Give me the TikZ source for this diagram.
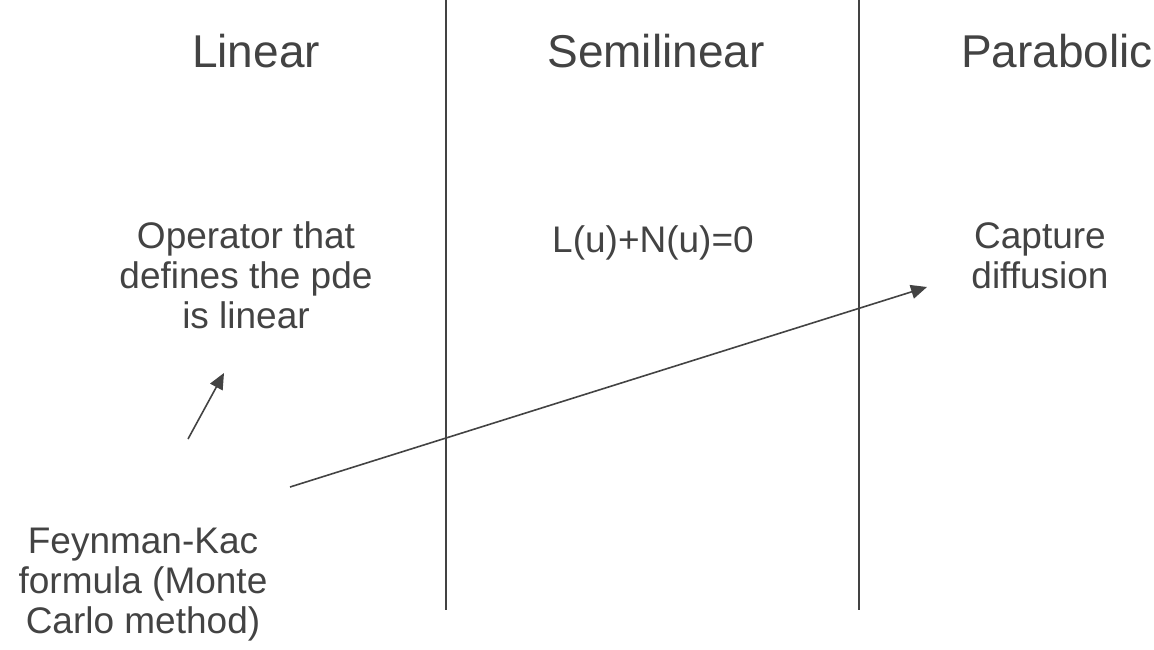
\documentclass[tikz,border=0pt]{standalone}
\usepackage{fontspec}
\setmainfont{Liberation Sans}
\usetikzlibrary{arrows.meta}
\definecolor{slidegray}{RGB}{67,67,67}
\tikzset{
  colhead/.style={font=\fontsize{46}{52}\selectfont,text=slidegray,anchor=base},
  note/.style={font=\fontsize{37}{40}\selectfont,text=slidegray,align=center,anchor=base,inner sep=0pt},
  colsep/.style={line width=1.6pt,slidegray},
  link/.style={line width=1.6pt,slidegray,-{Triangle[length=16pt,width=14pt]}}
}

\begin{document}
\begin{tikzpicture}[x=1pt,y=-1pt]
  \useasboundingbox (0,0) rectangle (1154,650);
  % column separators
  \coordinate (s1top) at (446,0); \coordinate (s1bot) at (446,610);
  \coordinate (s2top) at (859,0); \coordinate (s2bot) at (859,610);
  \draw[colsep] (s1top) -- (s1bot);
  \draw[colsep] (s2top) -- (s2bot);
  % headings
  \node[colhead] (linear) at (256,68) {Linear};
  \node[colhead] (semi) at (656,68) {Semilinear};
  \node[colhead] (parab) at (1057,68) {Parabolic};
  % cell texts (base = last line)
  \node[note] (opdef) at (246,328) {Operator that\\defines the pde\\is linear};
  \node[note] (lnform) at (653,252) {L(u)+N(u)=0};
  \node[note] (diffu) at (1040,288) {Capture\\diffusion};
  \node[note] (fk) at (143,633) {Feynman-Kac\\formula (Monte\\Carlo method)};
  % arrows
  \coordinate (fkA) at (188,439); \coordinate (opA) at (224,373);
  \coordinate (fkB) at (290,487); \coordinate (diffB) at (927,287);
  \draw[link] (fkA) -- (opA);
  \draw[link] (fkB) -- (diffB);
\end{tikzpicture}
\end{document}
